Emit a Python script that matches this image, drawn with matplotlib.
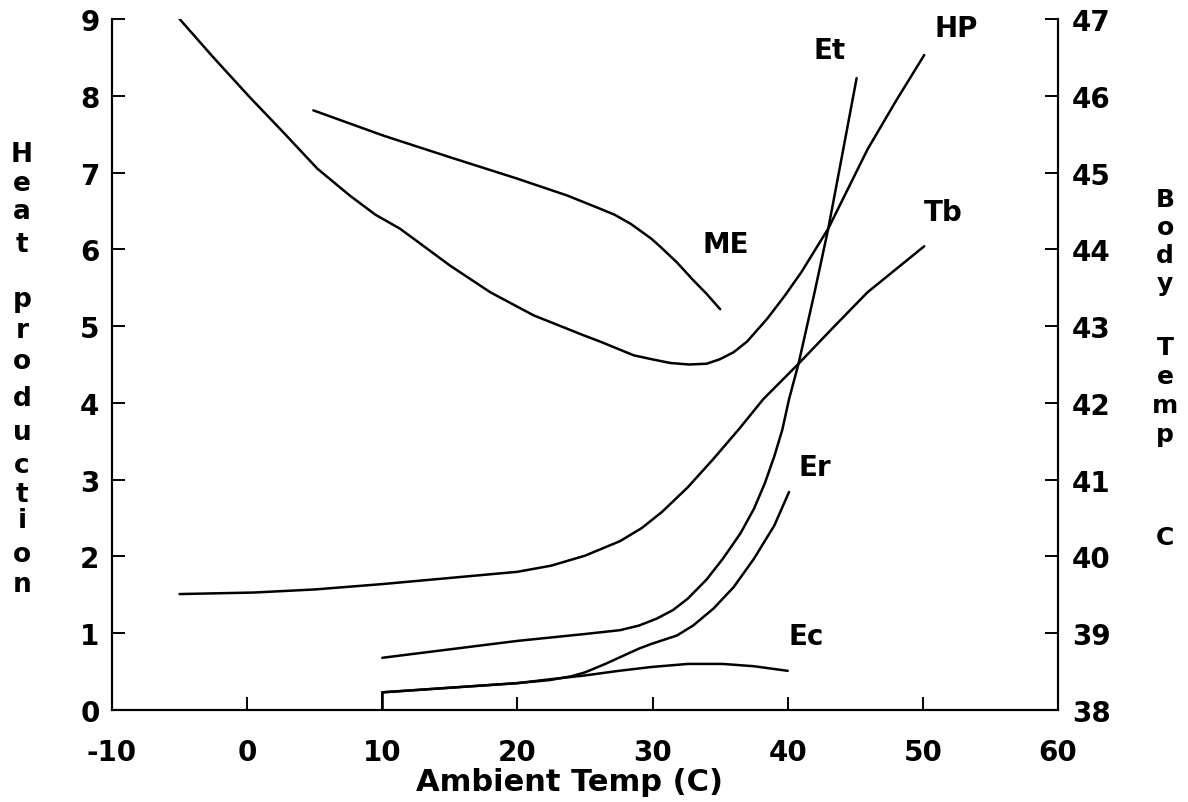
import matplotlib
matplotlib.use("Agg")
import matplotlib.pyplot as plt

plt.rcParams['font.family'] = ['DejaVu Sans']
plt.rcParams['font.weight'] = 'bold'
plt.rcParams['axes.unicode_minus'] = False

# curves (left axis units unless noted)
hp_x = [-5, -2.5, 0.2, 2.7, 5.2, 7.6, 9.5, 11.3, 13, 15, 18, 21.2, 24.9, 26.1, 28.6, 29.9, 31.3, 32.7,
        34, 35, 36, 37, 38.5, 39.8, 41, 43, 45.9, 48, 50.1]
hp_y = [9.0, 8.5, 7.98, 7.52, 7.05, 6.7, 6.45, 6.27, 6.05, 5.79, 5.44, 5.14, 4.88, 4.8, 4.62, 4.57, 4.52, 4.5,
        4.51, 4.57, 4.66, 4.8, 5.1, 5.4, 5.7, 6.27, 7.3, 7.93, 8.53]

me_x = [4.9, 10.1, 15, 20, 23.7, 26.1, 27.2, 28.4, 29.9, 30.6, 31.8, 33, 34, 35]
me_y = [7.81, 7.48, 7.2, 6.92, 6.7, 6.53, 6.45, 6.33, 6.14, 6.03, 5.83, 5.6, 5.42, 5.22]

# body temperature, right axis (C)
tb_x = [-5, 0.5, 5, 10, 15, 20, 22.5, 25, 27.6, 29.2, 30.7, 32.6, 34.5, 36.4, 38.2, 40.8, 43.3, 45.9, 50.1]
tb_c = [39.51, 39.53, 39.57, 39.64, 39.72, 39.80, 39.88, 40.01, 40.20, 40.37, 40.58, 40.90, 41.27, 41.66,
        42.05, 42.51, 42.97, 43.44, 44.04]

et_x = [10, 15, 20, 25, 27.6, 29, 30.3, 31.5, 32.6, 34, 35.2, 36.5, 37.5, 38.3, 39, 39.6, 40.1, 40.8,
        42, 43, 44, 45.1]
et_y = [0.68, 0.79, 0.9, 0.99, 1.04, 1.1, 1.19, 1.3, 1.45, 1.7, 1.97, 2.3, 2.62, 2.95, 3.3, 3.65, 4.05, 4.51,
        5.45, 6.27, 7.2, 8.23]

er_x = [10, 10, 15, 20, 22.4, 24, 25, 26.5, 27.5, 29, 29.9, 31.8, 33, 34.5, 36, 37.5, 39, 40.1]
er_y = [0, 0.23, 0.29, 0.35, 0.39, 0.44, 0.49, 0.6, 0.68, 0.8, 0.86, 0.97, 1.1, 1.32, 1.6, 1.97, 2.4, 2.84]

ec_x = [10, 10, 15, 20, 22.4, 25, 27.5, 29.9, 32.6, 35.2, 37.5, 40]
ec_y = [0, 0.23, 0.29, 0.35, 0.40, 0.45, 0.51, 0.56, 0.60, 0.60, 0.57, 0.51]

curve_labels = ['Et', 'HP', 'ME', 'Tb', 'Er', 'Ec']
label_x = [43.1, 52.5, 35.4, 51.5, 42.0, 41.4]
label_y = [8.6, 8.88, 6.07, 6.48, 3.17, 0.96]

x_ticks = [-10, 0, 10, 20, 30, 40, 50, 60]
left_ticks = list(range(0, 10))
right_ticks = list(range(38, 48))

fig = plt.figure(figsize=(11.88, 8.03), dpi=100)
ax = fig.add_axes([112 / 1188, 92 / 803, 946 / 1188, 691 / 803])
ax2 = ax.twinx()

lw = 1.8
for xs, ys in [(hp_x, hp_y), (me_x, me_y), (et_x, et_y), (er_x, er_y), (ec_x, ec_y)]:
    ax.plot(xs, ys, color='black', lw=lw, solid_joinstyle='round', solid_capstyle='round')
ax2.plot(tb_x, tb_c, color='black', lw=lw, solid_joinstyle='round', solid_capstyle='round')

for name, lx, ly in zip(curve_labels, label_x, label_y):
    ax.text(lx, ly, name, fontsize=20, fontweight='bold', ha='center', va='center')

ax.set_xlim(-10, 60)
ax.set_ylim(0, 9)
ax2.set_ylim(38, 47)
ax.set_xticks(x_ticks)
ax.set_yticks(left_ticks)
ax2.set_yticks(right_ticks)

for a in (ax, ax2):
    a.spines['top'].set_visible(False)
    for s in ('left', 'right', 'bottom'):
        a.spines[s].set_linewidth(1.5)

ax.tick_params(axis='y', direction='in', length=9.5, width=1.4, pad=9, labelsize=20)
ax.tick_params(axis='x', direction='in', length=9.5, width=1.4, pad=20, labelsize=20)
ax2.tick_params(axis='y', direction='in', length=9.5, width=1.4, pad=10, labelsize=20)

ax.set_xlabel('Ambient Temp (C)', fontsize=22, fontweight='bold')
ax.xaxis.set_label_coords(0.484, -0.083)

# stacked axis titles, one letter per row
left_letters = list('Heatproduction')
left_rows = [155, 184, 212, 245, 300, 331, 362, 399, 433, 466, 495, 521, 555, 585]
for ch, py in zip(left_letters, left_rows):
    fig.text(22 / 1188, 1 - py / 803, ch, fontsize=19, fontweight='bold', ha='center', va='center')

right_letters = list('BodyTempC')
right_rows = [200, 228, 256, 284, 348, 377, 406, 435, 538]
for ch, py in zip(right_letters, right_rows):
    fig.text(1165 / 1188, 1 - py / 803, ch, fontsize=18, fontweight='bold', ha='center', va='center')

fig.savefig('out.png', dpi=100)
